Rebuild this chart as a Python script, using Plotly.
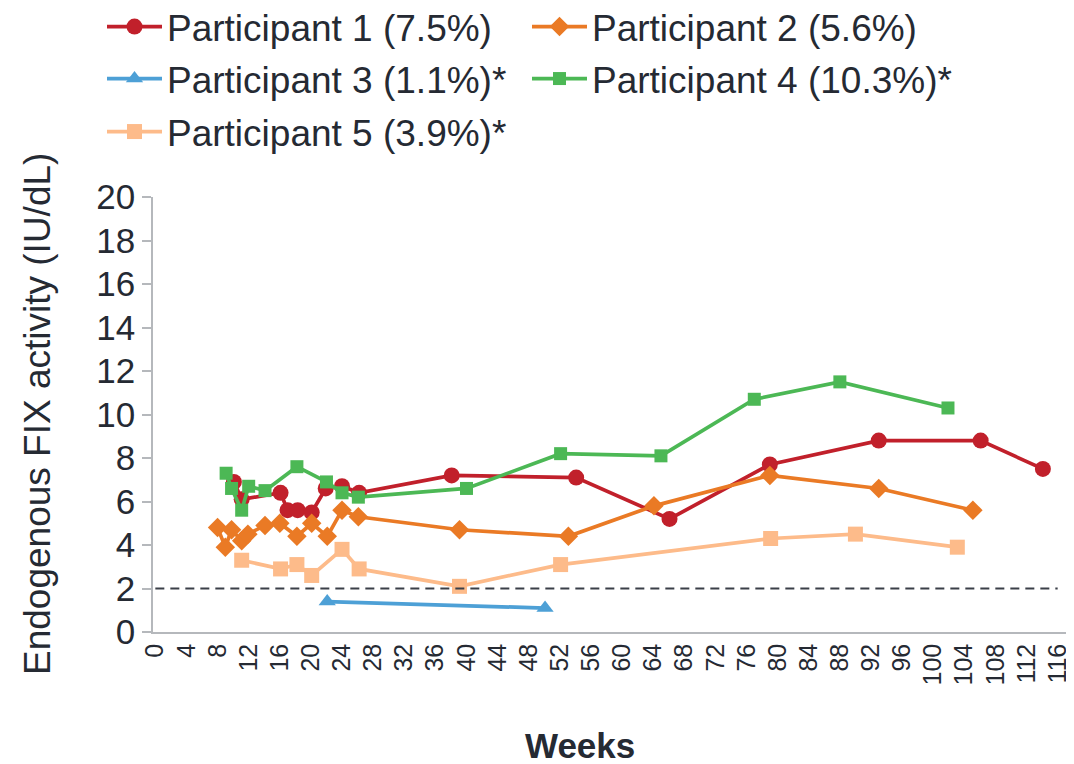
import plotly.graph_objects as go

# ---- data ----
weeks_p1 = [10.1, 11.1, 16.1, 17.0, 18.3, 20.1, 21.9, 24.0, 26.2, 38.1, 54.1, 66.1, 79.0, 93.0, 106.1, 114.1]
fix_p1 = [6.9, 6.1, 6.4, 5.6, 5.6, 5.5, 6.6, 6.7, 6.4, 7.2, 7.1, 5.2, 7.7, 8.8, 8.8, 7.5]

weeks_p2 = [8.0, 9.0, 9.8, 11.1, 11.9, 14.1, 16.0, 18.2, 20.1, 22.1, 24.0, 26.1, 39.1, 53.1, 64.1, 79.0, 93.0, 105.1]
fix_p2 = [4.8, 3.9, 4.7, 4.2, 4.5, 4.9, 5.0, 4.4, 5.0, 4.4, 5.6, 5.3, 4.7, 4.4, 5.8, 7.2, 6.6, 5.6]

weeks_p3 = [22.1, 50.1]
fix_p3 = [1.4, 1.1]

weeks_p4 = [9.1, 9.8, 11.1, 12.0, 14.1, 18.2, 22.0, 24.0, 26.1, 40.0, 52.1, 65.0, 77.0, 88.0, 101.9]
fix_p4 = [7.3, 6.6, 5.6, 6.7, 6.5, 7.6, 6.9, 6.4, 6.2, 6.6, 8.2, 8.1, 10.7, 11.5, 10.3]

weeks_p5 = [11.1, 16.1, 18.2, 20.1, 24.0, 26.2, 39.1, 52.1, 79.1, 90.0, 103.1]
fix_p5 = [3.3, 2.9, 3.1, 2.6, 3.8, 2.9, 2.1, 3.1, 4.3, 4.5, 3.9]

threshold_weeks = [0, 116]
threshold_fix = [2, 2]

names = ["Participant 1 (7.5%)", "Participant 2 (5.6%)", "Participant 3 (1.1%)*",
         "Participant 4 (10.3%)*", "Participant 5 (3.9%)*"]
x_ticks = list(range(0, 117, 4))
y_ticks = list(range(0, 21, 2))

# ---- styles ----
TXT = "#252a33"
FONT = "Liberation Sans, Arial, sans-serif"
OFF = 8  # page body margin in the browser
FIG_W, FIG_H = 1074 - OFF, 764 - OFF
PLOT_L, PLOT_R, PLOT_T, PLOT_B = 153, 1074, 197, 632  # screen pixels
PW, PH = PLOT_R - PLOT_L, PLOT_B - PLOT_T


def px_x(px):
    return (px - PLOT_L) / PW


def px_y(py):
    return (PLOT_B - py) / PH


series = [
    (weeks_p1, fix_p1, "#c1202b", "circle", 16, "legend"),
    (weeks_p2, fix_p2, "#ea7a25", "diamond", 15, "legend"),
    (weeks_p3, fix_p3, "#4da0d6", "triangle-up", 15, "legend2"),
    (weeks_p4, fix_p4, "#4cb855", "square", 13, "legend2"),
    (weeks_p5, fix_p5, "#fdbb8a", "square", 15, "legend3"),
]

fig = go.Figure()
for (xs, ys, col, sym, sz, lg), nm in zip(series, names):
    fig.add_trace(go.Scatter(
        x=xs, y=ys, name=nm, mode="lines+markers", legend=lg,
        line=dict(color=col, width=3.7),
        marker=dict(color=col, symbol=sym, size=sz),
    ))

fig.add_trace(go.Scatter(
    x=threshold_weeks, y=threshold_fix, mode="lines", showlegend=False,
    line=dict(color="#3a3f48", width=2, dash="9px,6px"), hoverinfo="skip",
))

legend_base = dict(
    orientation="h", xanchor="left", yanchor="middle",
    font=dict(size=37, color=TXT, family=FONT),
    entrywidth=355, itemwidth=55, traceorder="normal",
    bgcolor="rgba(0,0,0,0)",
)
leg_x = px_x(102)

fig.update_layout(
    width=FIG_W, height=FIG_H,
    margin=dict(l=PLOT_L - OFF, r=1074 - PLOT_R, t=PLOT_T - OFF, b=764 - PLOT_B, autoexpand=False),
    paper_bgcolor="white", plot_bgcolor="white",
    font=dict(family=FONT, color=TXT),
    legend=dict(legend_base, x=leg_x, y=px_y(27)),
    legend2=dict(legend_base, x=leg_x, y=px_y(79)),
    legend3=dict(legend_base, x=leg_x, y=px_y(132)),
    xaxis=dict(
        range=[-0.3, 118.1], tickvals=x_ticks, ticktext=[str(v) for v in x_ticks],
        tickangle=-90, tickfont=dict(size=25, color=TXT), ticklabeloverflow="allow",
        showgrid=False, zeroline=False, showline=True, linecolor="#b5b8bc", linewidth=1.5,
        ticks="",
    ),
    yaxis=dict(
        range=[0, 20], tickvals=y_ticks, tickfont=dict(size=35, color=TXT),
        showgrid=False, zeroline=False, showline=True, linecolor="#b5b8bc", linewidth=1.5,
        ticks="outside", ticklen=9, tickcolor="#b5b8bc", tickwidth=1.5,
    ),
    annotations=[
        dict(text="Endogenous FIX activity (IU/dL)", textangle=-90, xref="paper", yref="paper",
             x=px_x(37), y=px_y(414), xanchor="center", yanchor="middle", showarrow=False,
             font=dict(size=37, color=TXT, family=FONT)),
        dict(text="<b>Weeks</b>", xref="paper", yref="paper",
             x=px_x(580), y=px_y(745), xanchor="center", yanchor="middle",
             showarrow=False, font=dict(size=35, color=TXT, family=FONT)),
    ],
)

fig.write_html("out.html")
